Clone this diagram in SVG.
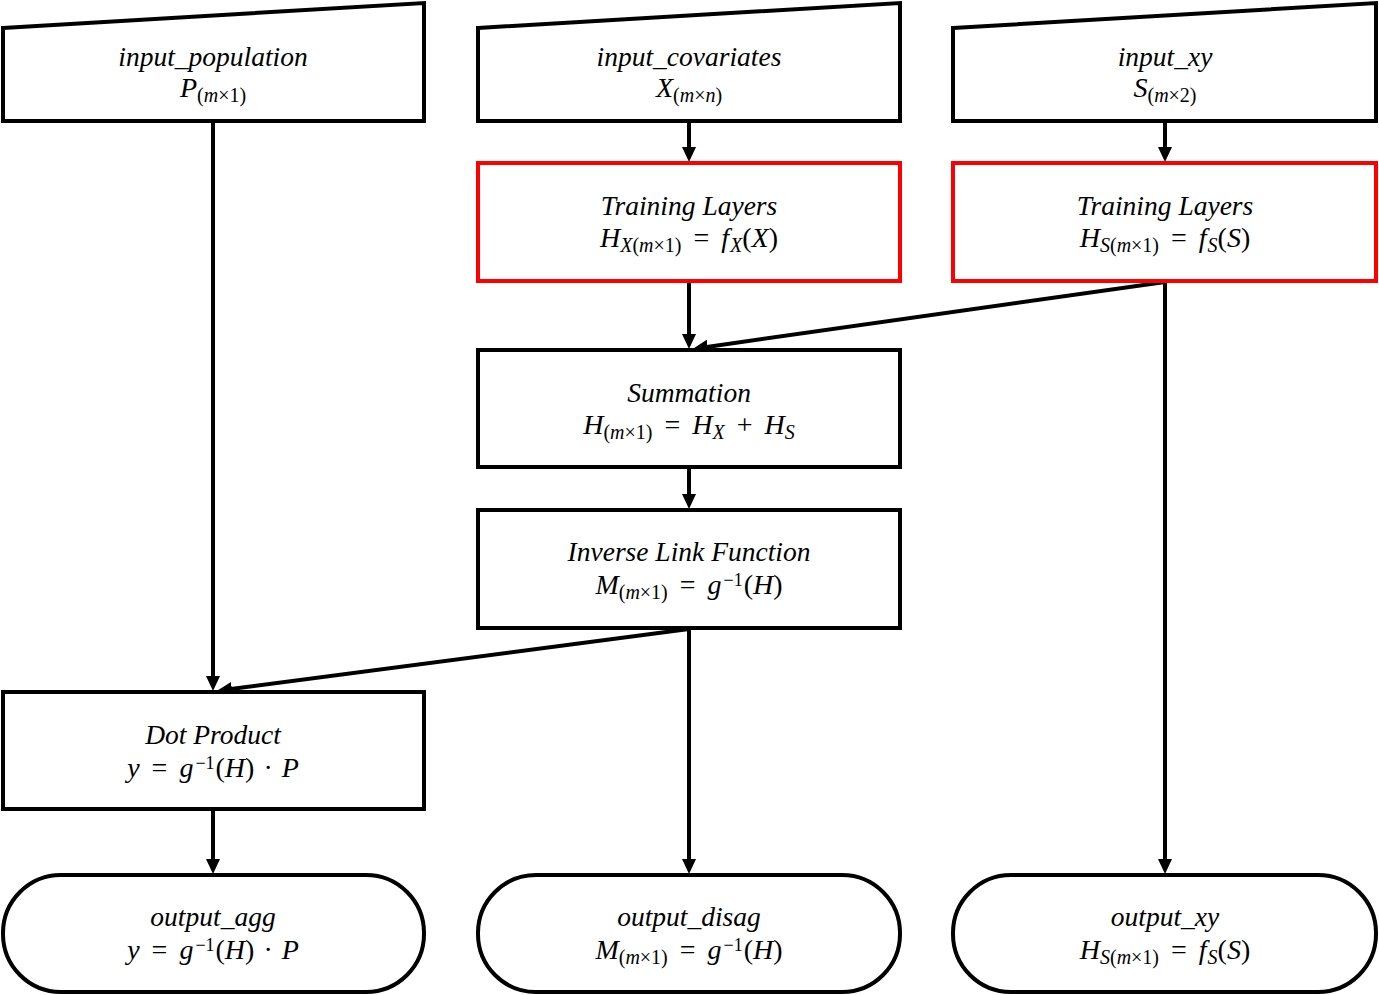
<svg xmlns="http://www.w3.org/2000/svg" width="1379" height="995" viewBox="0 0 1379 995">
<style>
.box{fill:#fff;stroke:#000;stroke-width:4}
.red{fill:#fff;stroke:#ff0000;stroke-width:4}
.t{font-family:"Liberation Serif","Times New Roman",serif;font-style:italic;font-size:27.5px;text-anchor:middle;fill:#000}
.m{font-family:"Liberation Serif","Times New Roman",serif;font-size:28px;text-anchor:middle;fill:#000}
.i{font-style:italic}
.s{font-size:20px}
.p{font-size:18px}
.c{fill:none;stroke:#000;stroke-width:4}
</style>
<defs>
<marker id="ah" markerUnits="userSpaceOnUse" markerWidth="16" markerHeight="15" refX="1" refY="7" orient="auto">
<path d="M0,0 L15,7 L0,14 z" fill="#000"/>
</marker>
</defs>
<rect width="1379" height="995" fill="#fff"/>
<g id="connectors">
<line class="c" x1="213" y1="121" x2="213" y2="677" marker-end="url(#ah)"/>
<line class="c" x1="689" y1="121" x2="689" y2="148" marker-end="url(#ah)"/>
<line class="c" x1="1165" y1="121" x2="1165" y2="148" marker-end="url(#ah)"/>
<line class="c" x1="689" y1="281" x2="689" y2="335" marker-end="url(#ah)"/>
<line class="c" x1="1165" y1="282" x2="706.8" y2="346.9" marker-end="url(#ah)"/>
<line class="c" x1="689" y1="467" x2="689" y2="495" marker-end="url(#ah)"/>
<line class="c" x1="689" y1="629" x2="230.9" y2="689" marker-end="url(#ah)"/>
<line class="c" x1="689" y1="628" x2="689" y2="860" marker-end="url(#ah)"/>
<line class="c" x1="1165" y1="281" x2="1165" y2="860" marker-end="url(#ah)"/>
<line class="c" x1="213" y1="809" x2="213" y2="860" marker-end="url(#ah)"/>
</g>
<g id="input_population">
<polygon class="box" points="3,28 424,3 424,121 3,121"/>
<text class="t" x="213" y="66">input_population</text>
<text class="m" x="213" y="97"><tspan class="i">P</tspan><tspan class="s" dy="5">(<tspan class="i">m</tspan>×1)</tspan></text>
</g>
<g id="input_covariates">
<polygon class="box" points="478,28 900,3 900,121 478,121"/>
<text class="t" x="689" y="66">input_covariates</text>
<text class="m" x="689" y="97"><tspan class="i">X</tspan><tspan class="s" dy="5">(<tspan class="i">m</tspan>×<tspan class="i">n</tspan>)</tspan></text>
</g>
<g id="input_xy">
<polygon class="box" points="953,28 1376,3 1376,121 953,121"/>
<text class="t" x="1165" y="66">input_xy</text>
<text class="m" x="1165" y="97"><tspan class="i">S</tspan><tspan class="s" dy="5">(<tspan class="i">m</tspan>×2)</tspan></text>
</g>
<g id="training_x">
<rect class="red" x="478" y="163" width="422" height="118"/>
<text class="t" x="689" y="215">Training Layers</text>
<text class="m" x="689" y="247"><tspan class="i">H</tspan><tspan class="s" dy="5"><tspan class="i">X</tspan>(<tspan class="i">m</tspan>×1)</tspan><tspan dy="-5" dx="5"> = </tspan><tspan class="i" dx="5">f</tspan><tspan class="s i" dx="1" dy="5">X</tspan><tspan dy="-5">(</tspan><tspan class="i">X</tspan>)</text>
</g>
<g id="training_s">
<rect class="red" x="953" y="163" width="423" height="118"/>
<text class="t" x="1165" y="215">Training Layers</text>
<text class="m" x="1165" y="247"><tspan class="i">H</tspan><tspan class="s" dy="5"><tspan class="i">S</tspan>(<tspan class="i">m</tspan>×1)</tspan><tspan dy="-5" dx="5"> = </tspan><tspan class="i" dx="5">f</tspan><tspan class="s i" dx="1" dy="5">S</tspan><tspan dy="-5">(</tspan><tspan class="i">S</tspan>)</text>
</g>
<g id="summation">
<rect class="box" x="478" y="350" width="422" height="117"/>
<text class="t" x="689" y="402">Summation</text>
<text class="m" x="689" y="434"><tspan class="i">H</tspan><tspan class="s" dy="5">(<tspan class="i">m</tspan>×1)</tspan><tspan dy="-5" dx="5"> = </tspan><tspan class="i" dx="5">H</tspan><tspan class="s i" dy="5">X</tspan><tspan dy="-5" dx="5"> + </tspan><tspan class="i" dx="5">H</tspan><tspan class="s i" dy="5">S</tspan></text>
</g>
<g id="inverse_link">
<rect class="box" x="478" y="510" width="422" height="118"/>
<text class="t" x="689" y="561">Inverse Link Function</text>
<text class="m" x="689" y="594"><tspan class="i">M</tspan><tspan class="s" dy="5">(<tspan class="i">m</tspan>×1)</tspan><tspan dy="-5" dx="5"> = </tspan><tspan class="i" dx="5">g</tspan><tspan class="p" dx="2" dy="-8">−1</tspan><tspan dy="8" dx="1">(</tspan><tspan class="i">H</tspan>)</text>
</g>
<g id="dot_product">
<rect class="box" x="3" y="692" width="421" height="117"/>
<text class="t" x="213" y="744">Dot Product</text>
<text class="m" x="213" y="777"><tspan class="i">y</tspan><tspan dx="5"> = </tspan><tspan class="i" dx="5">g</tspan><tspan class="p" dx="2" dy="-8">−1</tspan><tspan dy="8" dx="1">(</tspan><tspan class="i">H</tspan>)<tspan dx="2"> · </tspan><tspan class="i" dx="2">P</tspan></text>
</g>
<g id="output_agg">
<rect class="box" x="3" y="875" width="421" height="117" rx="58" ry="58"/>
<text class="t" x="213" y="926">output_agg</text>
<text class="m" x="213" y="959"><tspan class="i">y</tspan><tspan dx="5"> = </tspan><tspan class="i" dx="5">g</tspan><tspan class="p" dx="2" dy="-8">−1</tspan><tspan dy="8" dx="1">(</tspan><tspan class="i">H</tspan>)<tspan dx="2"> · </tspan><tspan class="i" dx="2">P</tspan></text>
</g>
<g id="output_disag">
<rect class="box" x="478" y="875" width="422" height="117" rx="58" ry="58"/>
<text class="t" x="689" y="926">output_disag</text>
<text class="m" x="689" y="959"><tspan class="i">M</tspan><tspan class="s" dy="5">(<tspan class="i">m</tspan>×1)</tspan><tspan dy="-5" dx="5"> = </tspan><tspan class="i" dx="5">g</tspan><tspan class="p" dx="2" dy="-8">−1</tspan><tspan dy="8" dx="1">(</tspan><tspan class="i">H</tspan>)</text>
</g>
<g id="output_xy">
<rect class="box" x="953" y="875" width="423" height="117" rx="58" ry="58"/>
<text class="t" x="1165" y="926">output_xy</text>
<text class="m" x="1165" y="959"><tspan class="i">H</tspan><tspan class="s" dy="5"><tspan class="i">S</tspan>(<tspan class="i">m</tspan>×1)</tspan><tspan dy="-5" dx="5"> = </tspan><tspan class="i" dx="5">f</tspan><tspan class="s i" dx="1" dy="5">S</tspan><tspan dy="-5">(</tspan><tspan class="i">S</tspan>)</text>
</g>
</svg>
